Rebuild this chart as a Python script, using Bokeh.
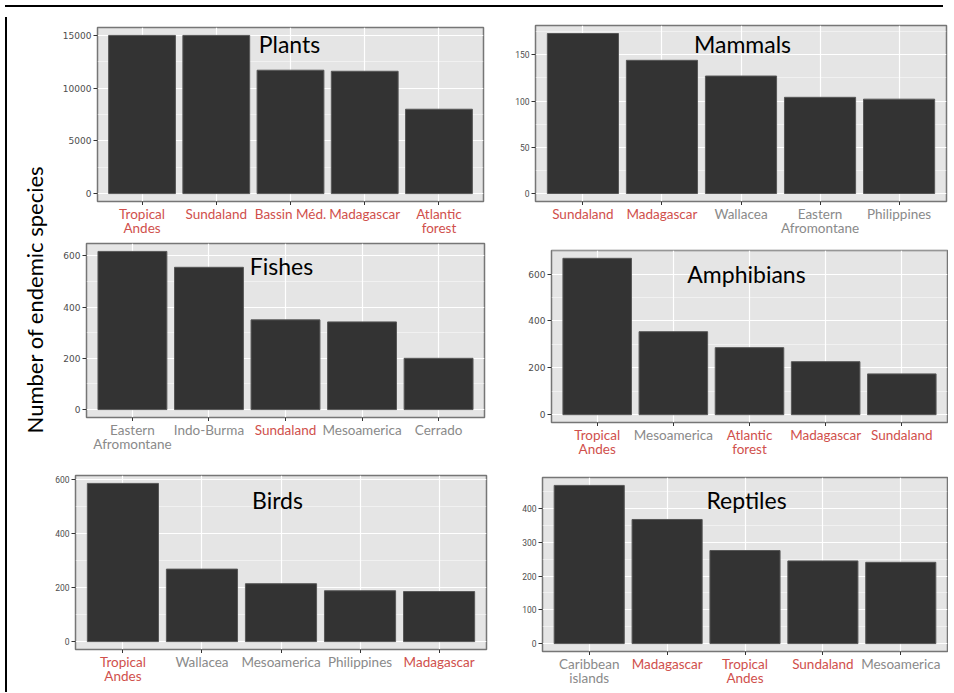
from bokeh.plotting import figure
from bokeh.models import FactorRange, Range1d, Label, FixedTicker, Div, ColumnDataSource
from bokeh.core.properties import value
from bokeh.layouts import row, column
from bokeh.embed import file_html
from bokeh.resources import INLINE

# ---------------- data ----------------
PLANTS_REGIONS = ["Tropical Andes", "Sundaland", "Bassin Méd.", "Madagascar", "Atlantic forest"]
PLANTS_VALUES = [15000, 15000, 11700, 11600, 8000]
PLANTS_TICKS = [0, 5000, 10000, 15000]

MAMMALS_REGIONS = ["Sundaland", "Madagascar", "Wallacea", "Eastern Afromontane", "Philippines"]
MAMMALS_VALUES = [173, 144, 127, 104, 102]
MAMMALS_TICKS = [0, 50, 100, 150]

FISHES_REGIONS = ["Eastern Afromontane", "Indo-Burma", "Sundaland", "Mesoamerica", "Cerrado"]
FISHES_VALUES = [617, 555, 350, 342, 200]
FISHES_TICKS = [0, 200, 400, 600]

AMPHIBIANS_REGIONS = ["Tropical Andes", "Mesoamerica", "Atlantic forest", "Madagascar", "Sundaland"]
AMPHIBIANS_VALUES = [667, 354, 286, 226, 174]
AMPHIBIANS_TICKS = [0, 200, 400, 600]

BIRDS_REGIONS = ["Tropical Andes", "Wallacea", "Mesoamerica", "Philippines", "Madagascar"]
BIRDS_VALUES = [585, 268, 214, 188, 185]
BIRDS_TICKS = [0, 200, 400, 600]

REPTILES_REGIONS = ["Caribbean islands", "Madagascar", "Tropical Andes", "Sundaland", "Mesoamerica"]
REPTILES_VALUES = [469, 368, 276, 245, 241]
REPTILES_TICKS = [0, 100, 200, 300, 400]

HIGHLIGHTED = ["Tropical Andes", "Sundaland", "Bassin Méd.", "Madagascar", "Atlantic forest"]
DISPLAY_NAMES = {
    "Tropical Andes": "Tropical\nAndes",
    "Atlantic forest": "Atlantic\nforest",
    "Eastern Afromontane": "Eastern\nAfromontane",
    "Caribbean islands": "Caribbean\nislands",
}
Y_LABEL = "Number of endemic species"

# ---------------- style ----------------
RED = "#d0504c"
GRAY = "#8a8a8a"
PANEL_BG = "#e5e5e5"
BAR = "#333333"
WIDE_FONT = "DejaVu Sans"
NARROW_FONT = "Liberation Sans Narrow, Arial Narrow, Roboto"
LABEL_FONT = "Lato"


def cell(title, regions, values, ticks, w, main_h, strip_h, borders, tick_font,
         tick_size, title_pos):
    left, right, top = borders
    vmax = max(values)
    yr = Range1d(start=-0.05 * vmax, end=vmax * 1.05)
    xr = FactorRange(factors=regions, range_padding=0.1, range_padding_units="absolute")
    src = ColumnDataSource(dict(
        region=regions, value=values,
        label=[DISPLAY_NAMES.get(r, r) for r in regions],
        color=[RED if r in HIGHLIGHTED else GRAY for r in regions]))

    p = figure(x_range=xr, y_range=yr, width=w, height=main_h,
               output_backend="svg", toolbar_location=None, tools="",
               min_border_left=left, min_border_right=right,
               min_border_top=top, min_border_bottom=4,
               background_fill_color=PANEL_BG, border_fill_color="white",
               outline_line_color="#767676", outline_line_width=1.5)
    p.vbar(x="region", top="value", width=0.9, source=src,
           fill_color=BAR, line_color="#575757", line_width=1)

    step = ticks[1] - ticks[0]
    minor = [t + step / 2 for t in ticks if t + step / 2 < yr.end]
    p.yaxis.ticker = FixedTicker(ticks=ticks, minor_ticks=minor)
    p.yaxis.major_label_text_font = tick_font
    p.yaxis.major_label_text_font_size = tick_size
    p.yaxis.major_label_text_color = "#4d4d4d"
    p.yaxis.major_label_standoff = 2
    p.yaxis.major_tick_in = 0
    p.yaxis.major_tick_out = 4
    p.yaxis.major_tick_line_color = "#333333"
    p.yaxis.minor_tick_line_color = None
    p.yaxis.axis_line_color = None

    p.xaxis.major_label_text_color = None
    p.xaxis.major_label_text_font_size = "1px"
    p.xaxis.major_label_standoff = 0
    p.xaxis.major_tick_in = 0
    p.xaxis.major_tick_out = 4
    p.xaxis.major_tick_line_color = "#333333"
    p.xaxis.axis_line_color = None

    p.ygrid.grid_line_color = "white"
    p.ygrid.grid_line_width = 1.2
    p.ygrid.minor_grid_line_color = "white"
    p.ygrid.minor_grid_line_width = 0.6
    p.ygrid.minor_grid_line_alpha = 0.8
    p.xgrid.grid_line_color = "white"
    p.xgrid.grid_line_width = 1.2

    tx, ty = title_pos
    p.add_layout(Label(x=tx, y=ty, x_units="screen", y_units="screen", text=title,
                       text_align="center", text_baseline="alphabetic",
                       text_font=LABEL_FONT, text_font_size="23px", text_color="black"))

    # strip below the panel carrying the per-colour category labels (shares the x range)
    s = figure(x_range=xr, y_range=Range1d(0, 1), width=w, height=strip_h,
               x_axis_type=None, y_axis_type=None,
               output_backend="svg", toolbar_location=None, tools="",
               min_border_left=left, min_border_right=right,
               min_border_top=0, min_border_bottom=0,
               outline_line_color=None, background_fill_color="white",
               border_fill_color="white")
    s.grid.visible = False
    s.text(x="region", y=1, text="label", text_color="color", source=src,
           text_align="center", text_baseline="top", text_font=value(LABEL_FONT),
           text_font_size="13.5px", text_line_height=0.9)
    return row(column(p, s))


c1 = cell("Plants", PLANTS_REGIONS, PLANTS_VALUES, PLANTS_TICKS, 450, 193, 32,
          (45, 19, 15), WIDE_FONT, "9px", (192, 158))
c3 = cell("Fishes", FISHES_REGIONS, FISHES_VALUES, FISHES_TICKS, 450, 184, 32,
          (34, 18, 6), WIDE_FONT, "9px", (195, 152))
c5 = cell("Birds", BIRDS_REGIONS, BIRDS_VALUES, BIRDS_TICKS, 450, 200, 34,
          (21, 16, 22), NARROW_FONT, "8.5px", (202, 150))
c2 = cell("Mammals", MAMMALS_REGIONS, MAMMALS_VALUES, MAMMALS_TICKS, 446, 193, 32,
          (33, 2, 13), NARROW_FONT, "8.5px", (207, 158))
c4 = cell("Amphibians", AMPHIBIANS_REGIONS, AMPHIBIANS_VALUES, AMPHIBIANS_TICKS, 446, 189, 32,
          (49, 1, 13), WIDE_FONT, "9px", (195, 149))
c6 = cell("Reptiles", REPTILES_REGIONS, REPTILES_VALUES, REPTILES_TICKS, 446, 197, 32,
          (40, 1, 19), NARROW_FONT, "8.5px", (204, 152))

lab = figure(width=40, height=675, x_axis_type=None, y_axis_type=None,
             output_backend="svg", toolbar_location=None, tools="",
             min_border=0, outline_line_color=None)
lab.grid.visible = False
lab.add_layout(Label(x=22, y=388, x_units="screen", y_units="screen", text=Y_LABEL,
                     angle=90, angle_units="deg", text_align="center",
                     text_baseline="middle", text_font=LABEL_FONT,
                     text_font_size="22px", text_color="black"))

top_bar = Div(width=938, height=2, styles={"background-color": "black"})
left_bar = Div(width=2, height=675, styles={"background-color": "black"})

left_col = column(c1, c3, c5)
right_col = column(c2, c4, c6)
layout = column(top_bar, row(left_bar, lab, left_col, right_col))

open("out.html", "w").write(file_html(layout, INLINE))
